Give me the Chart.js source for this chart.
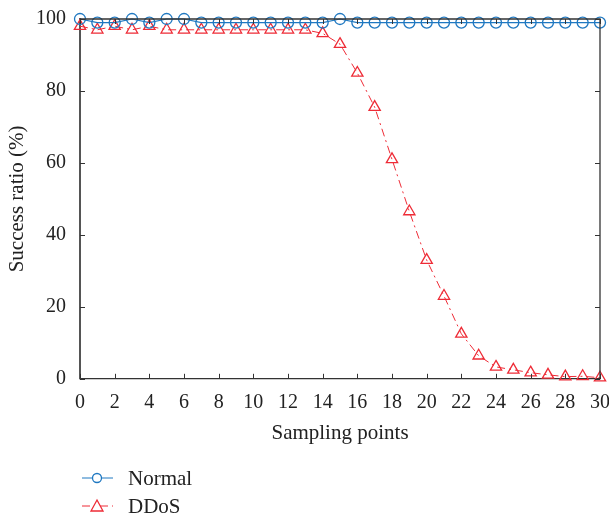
<!DOCTYPE html>
<html>
<head>
<meta charset="utf-8">
<script src="https://cdn.jsdelivr.net/npm/chart.js@4"></script>
<style>
  html, body { margin: 0; padding: 0; background: #fff; }
  #wrap { width: 609px; height: 517px; }
</style>
</head>
<body>
<div id="wrap"><canvas id="LineChart"></canvas></div>
<script>
var samplingPoints = [0, 1, 2, 3, 4, 5, 6, 7, 8, 9, 10, 11, 12, 13, 14, 15, 16, 17, 18, 19, 20, 21, 22, 23, 24, 25, 26, 27, 28, 29, 30];
var normalValues = [100, 99, 99, 100, 99, 100, 100, 99, 99, 99, 99, 99, 99, 99, 99, 100, 99, 99, 99, 99, 99, 99, 99, 99, 99, 99, 99, 99, 99, 99, 99];
var ddosValues = [98, 97, 98, 97, 98, 97, 97, 97, 97, 97, 97, 97, 97, 97, 96, 93, 85, 75.5, 61, 46.5, 33, 23, 12.5, 6.4, 3.3, 2.5, 1.7, 1.1, 0.6, 0.7, 0.3];
var xTicks = [0, 2, 4, 6, 8, 10, 12, 14, 16, 18, 20, 22, 24, 26, 28, 30];
var yTicks = [0, 20, 40, 60, 80, 100];

var blue = "#1f78c1";
var red = "#ee2b36";
var fontFamily = "'Liberation Serif', 'DejaVu Serif', serif";

function toPoints(values) {
    var pts = [];
    for (var i = 0; i < samplingPoints.length; i++) {
        pts.push({ x: samplingPoints[i], y: values[i] });
    }
    return pts;
}

// box round the plot with inward ticks on all four sides
var boxPlugin = {
    id: 'boxTicks',
    afterDatasetsDraw: function (chart) {
        var ctx = chart.ctx;
        var a = chart.chartArea;
        var xs = chart.scales.x, ys = chart.scales.y;
        ctx.save();
        ctx.strokeStyle = "#333";
        ctx.lineWidth = 1.3;
        ctx.beginPath();
        ctx.moveTo(a.left, a.top);
        ctx.lineTo(a.right, a.top);
        ctx.lineTo(a.right, a.bottom);
        ctx.stroke();
        ctx.lineWidth = 1;
        ctx.beginPath();
        xTicks.forEach(function (v) {
            var px = Math.round(xs.getPixelForValue(v)) + 0.5;
            ctx.moveTo(px, a.bottom); ctx.lineTo(px, a.bottom - 5);
            ctx.moveTo(px, a.top); ctx.lineTo(px, a.top + 5);
        });
        yTicks.forEach(function (v) {
            var py = Math.round(ys.getPixelForValue(v)) + 0.5;
            ctx.moveTo(a.left, py); ctx.lineTo(a.left + 5, py);
            ctx.moveTo(a.right, py); ctx.lineTo(a.right - 5, py);
        });
        ctx.stroke();
        ctx.restore();
    },
    afterDraw: function (chart) {
        // legend, stacked under the plot
        var ctx = chart.ctx;
        ctx.save();
        ctx.font = "21px " + fontFamily;
        ctx.textBaseline = "middle";
        var rows = [478, 506];
        chart.data.datasets.forEach(function (ds, i) {
            var y = rows[i];
            ctx.strokeStyle = ds.borderColor;
            ctx.lineWidth = 1;
            ctx.setLineDash(ds.borderDash || []);
            ctx.beginPath();
            ctx.moveTo(82, y); ctx.lineTo(113, y);
            ctx.stroke();
            ctx.setLineDash([]);
            ctx.lineWidth = 1.3;
            ctx.beginPath();
            ctx.fillStyle = "#fff";
            if (ds.pointStyle === 'circle') {
                ctx.arc(97, y, 4.5, 0, Math.PI * 2);
            } else {
                ctx.moveTo(97, y - 6); ctx.lineTo(103, y + 5); ctx.lineTo(91, y + 5); ctx.closePath();
            }
            ctx.fill();
            ctx.stroke();
            ctx.fillStyle = "#222";
            ctx.fillText(ds.label, 128, y + 1);
        });
        ctx.restore();
    }
};

var ctx = document.getElementById("LineChart").getContext('2d');
var myChart = new Chart(ctx, {
    type: 'line',
    data: {
        datasets: [
            {
                label: "Normal",
                data: toPoints(normalValues),
                borderColor: blue,
                backgroundColor: "rgba(255,255,255,0)",
                borderWidth: 1.2,
                pointStyle: 'circle',
                pointRadius: 5.5,
                pointBorderWidth: 1.3,
                pointBorderColor: blue,
                pointBackgroundColor: "rgba(255,255,255,0)",
                tension: 0
            },
            {
                label: "DDoS",
                data: toPoints(ddosValues),
                borderColor: red,
                backgroundColor: "rgba(255,255,255,0)",
                borderWidth: 1,
                borderDash: [8, 4, 2, 4],
                pointStyle: 'triangle',
                pointRadius: 6.5,
                pointBorderWidth: 1.3,
                pointBorderColor: red,
                pointBackgroundColor: "rgba(255,255,255,0)",
                tension: 0
            }
        ]
    },
    options: {
        responsive: true,
        maintainAspectRatio: false,
        animation: false,
        clip: false,
        layout: { padding: { left: 5, right: 0, top: 19, bottom: 71 } },
        plugins: {
            legend: { display: false },
            tooltip: { enabled: false }
        },
        scales: {
            x: {
                type: 'linear',
                min: 0,
                max: 30,
                afterBuildTicks: function (scale) {
                    scale.ticks = xTicks.map(function (v) { return { value: v }; });
                },
                afterFit: function (scale) { scale.paddingRight = 9; },
                ticks: { color: "#222", padding: 4, font: { family: fontFamily, size: 20 }, maxRotation: 0 },
                grid: { display: false },
                border: { display: true, color: "#333", width: 1.3 },
                title: { display: true, text: "Sampling points", color: "#222", padding: { top: 2, bottom: 0 }, font: { family: fontFamily, size: 21 } }
            },
            y: {
                min: 0,
                max: 100,
                afterBuildTicks: function (scale) {
                    scale.ticks = yTicks.map(function (v) { return { value: v }; });
                },
                afterFit: function (scale) { scale.width = 75; },
                ticks: { color: "#222", padding: 6, font: { family: fontFamily, size: 20 } },
                grid: { display: false },
                border: { display: true, color: "#555", width: 2 },
                title: { display: true, text: "Success ratio (%)", color: "#222", padding: { top: 0, bottom: 2 }, font: { family: fontFamily, size: 21 } }
            }
        }
    },
    plugins: [boxPlugin]
});
</script>
</body>
</html>
